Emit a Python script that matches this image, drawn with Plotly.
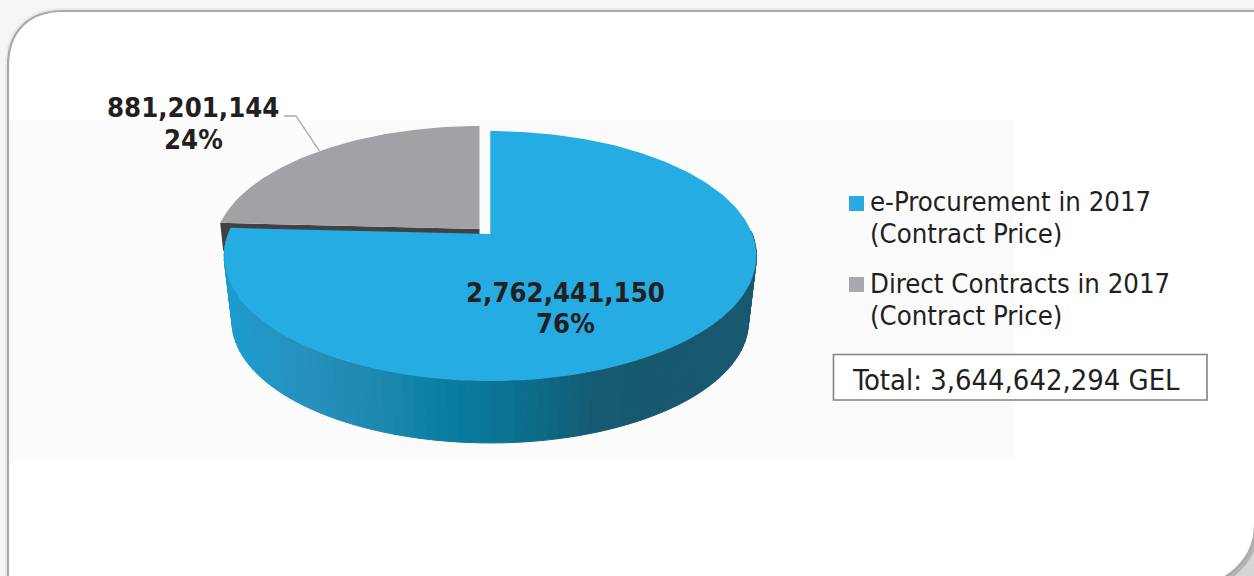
import numpy as np
import plotly.graph_objects as go

categories = ["e-Procurement in 2017", "Direct Contracts in 2017"]
legend_sub = "(Contract Price)"
values = [2762441150, 881201144]
percents = ["76%", "24%"]
total_label = "Total: 3,644,642,294 GEL"
top_colors = ["#25ACE3", "#A1A2A5"]
legend_colors = ["#27A9E1", "#A7A9AC"]

TEXT = "#231F20"
FONT = "DejaVu Sans Condensed, DejaVu Sans"
W, H = 1254, 576

# perspective projection of the pie's circle on to the page
CX, CY, A, B, K = 490.3, 234.0, 262.0, 121.1, 0.176
DEPTH_SHIFT, DEPTH_SCALE = 66.4, 0.97
EXPLODE = (-10.8, -5.0)

share = np.array(values, dtype=float) / sum(values)
end_blue = share[0] * 2 * np.pi


def project(theta, dx=0.0, dy=0.0, depth=False):
    u, v = np.sin(theta), np.cos(theta)
    d = 1 + K * v
    s = DEPTH_SCALE if depth else 1.0
    x = CX + s * A * u / d + dx
    y = CY - s * B * v / d + dy + (DEPTH_SHIFT if depth else 0)
    return x, y


def poly(x, y, color, line=0):
    return go.Scatter(x=list(x), y=list(y), mode="lines", fill="toself", fillcolor=color,
                      line=dict(color=color, width=line), hoverinfo="skip", showlegend=False)


fig = go.Figure()

# grey slice: dark wall behind the blue slice, then its top
ax, ay = project(0.0)[0] + EXPLODE[0], CY + EXPLODE[1]
lx, ly = project(end_blue, *EXPLODE)
fig.add_trace(poly([ax, lx, lx + 3, ax], [ay, ly, ly + 28, ay + 28], "#414042"))
th = np.linspace(end_blue, 2 * np.pi, 100)
gx, gy = project(th, *EXPLODE)
fig.add_trace(poly([ax, *gx, ax], [ay, *gy, ay], top_colors[1]))

# blue slice: wall strips, shaded from left to right
stops_x = [224, 300, 380, 450, 520, 590, 640, 757]
stops_rgb = np.array([[27, 157, 207], [38, 146, 190], [28, 137, 177], [9, 125, 160],
                      [12, 112, 144], [20, 92, 115], [24, 88, 110], [26, 90, 112]])
edges = np.linspace(np.pi / 2 - 0.02, end_blue, 90)
for t0, t1 in zip(edges[:-1], edges[1:]):
    ts = np.linspace(t0, t1, 4)
    x1, y1 = project(ts)
    x2, y2 = project(ts[::-1], depth=True)
    xm = (x1.mean() + x2.mean()) / 2
    rgb = [int(np.interp(xm, stops_x, stops_rgb[:, i])) for i in range(3)]
    fig.add_trace(poly([*x1, *x2, x1[0]], [*y1, *y2, y1[0]], "rgb(%d,%d,%d)" % tuple(rgb), 1))

th = np.linspace(0, end_blue, 240)
bx, by = project(th)
fig.add_trace(poly([CX, *bx, CX], [CY, *by, CY], top_colors[0]))

# leader line from the grey label to the middle of its arc
lead_x, lead_y = project(end_blue + share[1] * np.pi, *EXPLODE)
fig.add_trace(go.Scatter(x=[284, 296, lead_x], y=[116, 116, lead_y], mode="lines",
                         line=dict(color="#A7A9AC", width=1.3), hoverinfo="skip", showlegend=False))

# legend markers
fig.add_trace(go.Scatter(x=[856.5, 856.5], y=[203.5, 284.5], mode="markers",
                         marker=dict(symbol="square", size=15, color=legend_colors, line=dict(width=0)),
                         hoverinfo="skip", showlegend=False))


def note(x, y, text, size, bold=False, anchor="left"):
    fig.add_annotation(x=x, y=y, text="<b>%s</b>" % text if bold else text, showarrow=False,
                       xanchor=anchor, yanchor="middle",
                       font=dict(family=FONT, size=size, color=TEXT))


note(565.5, 292, f"{values[0]:,}", 27.3, True, "center")
note(565.5, 323, percents[0], 27.3, True, "center")
note(193, 107, f"{values[1]:,}", 27.3, True, "center")
note(193, 139, percents[1], 27.3, True, "center")
note(868, 201, categories[0], 27.3)
note(868, 233, legend_sub, 27.3)
note(868, 283, categories[1], 27.3)
note(868, 315, legend_sub, 27.3)
note(850, 380, total_label, 28.9)

CARD = ("M8,600 L8,66 C8,30 30,11 63,11 L1270,11 L1270,460 L1255,525 "
        "C1255,558 1228,585 1195,585 L8,600 Z")
shapes = [
    dict(type="path", path=CARD, line=dict(color="#E8E8E8", width=6), layer="below"),
    dict(type="rect", x0=1190, x1=1254, y0=520, y1=576, fillcolor="#D6D6D7", line=dict(width=0), layer="below"),
    dict(type="path", path="M1255,525 C1255,558 1228,585 1195,585", line=dict(color="#B4B4B6", width=9), layer="below"),
    dict(type="path", path=CARD, fillcolor="#FFFFFF", line=dict(color="#A7A9AC", width=2.2), layer="below"),
    dict(type="rect", x0=10, x1=1015, y0=120, y1=461, fillcolor="#FBFBFB", line=dict(width=0), layer="below"),
    dict(type="rect", x0=833.5, x1=1207, y0=354.5, y1=400, fillcolor="#FFFFFF",
         line=dict(color="#808285", width=1.6), layer="below"),
]

fig.update_layout(
    width=W, height=H, margin=dict(l=0, r=0, t=0, b=0), showlegend=False,
    paper_bgcolor="#F5F5F5", plot_bgcolor="rgba(0,0,0,0)", shapes=shapes,
    xaxis=dict(range=[0, W], visible=False, fixedrange=True),
    yaxis=dict(range=[H, 0], visible=False, fixedrange=True),
)
fig.write_html("out.html", config={"displayModeBar": False},
               post_script="document.body.style.margin='0';document.body.style.overflow='hidden';")
